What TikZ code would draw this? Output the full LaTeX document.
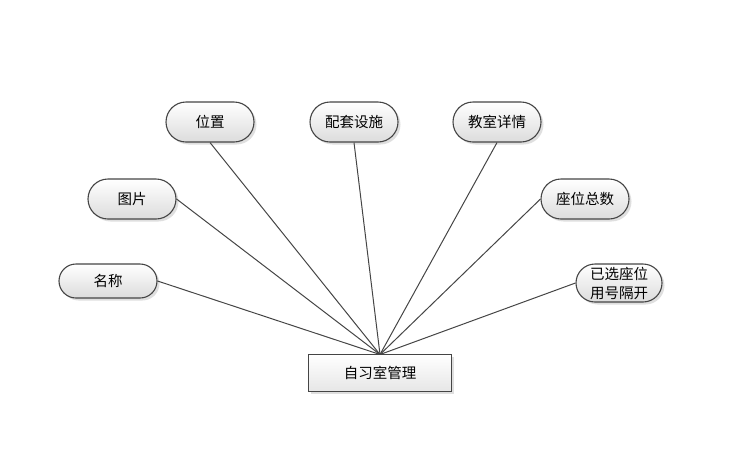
\documentclass[tikz,border=0pt]{standalone}
\usepackage{fontspec}
\setmainfont{Noto Sans CJK SC}
\usetikzlibrary{shapes.misc,shadows}
\definecolor{edgec}{HTML}{454545}
\definecolor{fillbot}{HTML}{DCDCDC}
\tikzset{
  attr/.style={rounded rectangle, draw=edgec, line width=1.1pt, minimum width=88pt, minimum height=40pt,
    top color=white, bottom color=fillbot, font=\fontsize{14.5}{19}\selectfont, inner sep=0pt, align=center,
    drop shadow={opacity=0.25, shadow xshift=2.5pt, shadow yshift=-2.5pt}},
  ent/.style={rectangle, draw=edgec, line width=1.1pt, minimum width=143pt, minimum height=37pt,
    top color=white, bottom color=fillbot!70, font=\fontsize{14.5}{19}\selectfont,
    drop shadow={opacity=0.25, shadow xshift=2.5pt, shadow yshift=-2.5pt}},
  link/.style={draw=edgec, line width=1pt}
}
\begin{document}
\begin{tikzpicture}[x=1pt,y=-1pt]
\useasboundingbox (0,0) rectangle (744,451);
\node[attr] (pos) at (210,122) {位置};
\node[attr] (fac) at (354,122) {配套设施};
\node[attr] (det) at (497,122) {教室详情};
\node[attr] (pic) at (132,199) {图片};
\node[attr] (cnt) at (585,199) {座位总数};
\node[attr, minimum width=98pt, minimum height=34pt] (nam) at (108,281) {名称};
\node[attr, minimum width=86pt, minimum height=38pt, font=\fontsize{14.5}{19}\selectfont] (sel) at (619,283) {已选座位\\用号隔开};
\node[ent] (room) at (380,373) {自习室管理};
\coordinate (hub) at (380,354.5);
\draw[link] (pos.south) -- (hub);
\draw[link] (fac.south) -- (hub);
\draw[link] (det.south) -- (hub);
\draw[link] (pic.east) -- (hub);
\draw[link] (cnt.west) -- (hub);
\draw[link] (nam.east) -- (hub);
\draw[link] (sel.west) -- (hub);
\end{tikzpicture}
\end{document}
